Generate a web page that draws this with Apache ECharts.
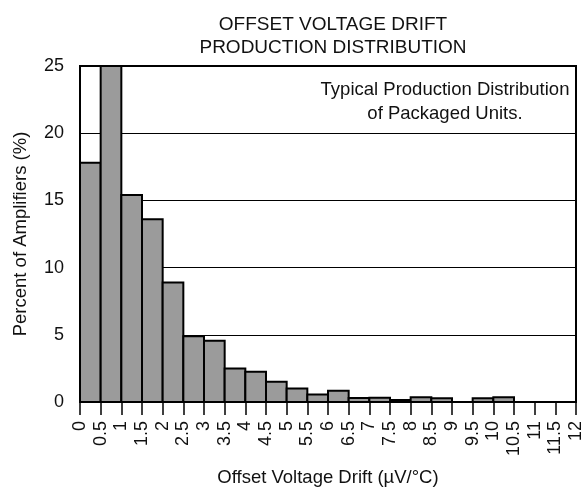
<!DOCTYPE html>
<html>
<head>
<meta charset="utf-8">
<script src="https://cdn.jsdelivr.net/npm/echarts@6/dist/echarts.min.js"></script>
<style>html,body{margin:0;padding:0;background:#fff}#c{width:586px;height:492px}</style>
</head>
<body>
<div id="c"></div>
<script>
const titleLines = ['OFFSET VOLTAGE DRIFT', 'PRODUCTION DISTRIBUTION'];
const noteLines = ['Typical Production Distribution', 'of Packaged Units.'];
const xAxisName = 'Offset Voltage Drift (µV/°C)';
const yAxisName = 'Percent of Amplifiers (%)';
const binWidth = 0.5;
const binLow = [0, 0.5, 1, 1.5, 2, 2.5, 3, 3.5, 4, 4.5, 5, 5.5, 6, 6.5, 7, 7.5, 8, 8.5, 9, 9.5, 10, 10.5, 11, 11.5];
const percent = [17.8, 25, 15.4, 13.6, 8.9, 4.9, 4.55, 2.5, 2.25, 1.5, 1.0, 0.55, 0.83, 0.3, 0.32, 0.15, 0.35, 0.28, 0, 0.28, 0.35, 0, 0, 0];
const xTicks = [0, 0.5, 1, 1.5, 2, 2.5, 3, 3.5, 4, 4.5, 5, 5.5, 6, 6.5, 7, 7.5, 8, 8.5, 9, 9.5, 10, 10.5, 11, 11.5, 12];
const yTicks = [0, 5, 10, 15, 20, 25];

const FONT = 'Liberation Sans, Arial, sans-serif';
const FS = 18.5;
const data = binLow.map((lo, i) => [lo, lo + binWidth, percent[i]]).filter(d => d[2] > 0);

const chart = echarts.init(document.getElementById('c'));
chart.setOption({
  animation: false,
  backgroundColor: '#fff',
  title: {
    text: titleLines.join('\n'),
    left: 328, top: 8, textAlign: 'center',
    textStyle: { fontFamily: FONT, fontSize: 19, fontWeight: 'normal', color: '#111', lineHeight: 23.5 }
  },
  grid: { left: 80, right: 10, top: 66, bottom: 89, show: true, borderColor: '#000', borderWidth: 2, backgroundColor: 'transparent' },
  xAxis: {
    type: 'value', min: xTicks[0], max: xTicks[xTicks.length - 1], interval: 0.5,
    name: xAxisName, nameLocation: 'middle', nameGap: 66,
    nameTextStyle: { fontFamily: FONT, fontSize: FS, color: '#111' },
    axisLine: { show: true, onZero: false, lineStyle: { color: '#000', width: 2 } },
    axisTick: { show: true, inside: false, length: 13, lineStyle: { color: '#000', width: 1.5 } },
    axisLabel: { rotate: 90, margin: 19, fontFamily: FONT, fontSize: 18, color: '#111', showMinLabel: true, showMaxLabel: true,
      hideOverlap: false, formatter: v => String(v) },
    splitLine: { show: false }
  },
  yAxis: {
    type: 'value', min: yTicks[0], max: yTicks[yTicks.length - 1], interval: 5,
    name: yAxisName, nameLocation: 'middle', nameGap: 50,
    nameTextStyle: { fontFamily: FONT, fontSize: FS, color: '#111' },
    axisLine: { show: true, onZero: false, lineStyle: { color: '#000', width: 2 } },
    axisTick: { show: false },
    axisLabel: { margin: 16, fontFamily: FONT, fontSize: 18, color: '#111' },
    splitLine: { show: true, lineStyle: { color: '#000', width: 1 } }
  },
  graphic: [{
    type: 'text', x: 445, y: 78, z: 10,
    style: { text: noteLines.join('\n'), textAlign: 'center', align: 'center', fontFamily: FONT, fontSize: FS, lineHeight: 24, fill: '#111' }
  }],
  series: [{
    type: 'custom',
    data: data,
    encode: { x: [0, 1], y: 2 },
    renderItem: function (params, api) {
      const p0 = api.coord([api.value(0), api.value(2)]);
      const p1 = api.coord([api.value(1), 0]);
      return {
        type: 'rect',
        shape: { x: p0[0], y: p0[1], width: p1[0] - p0[0], height: p1[1] - p0[1] },
        style: { fill: '#9b9b9b', stroke: '#000', lineWidth: 2 }
      };
    }
  }]
});
</script>
</body>
</html>
